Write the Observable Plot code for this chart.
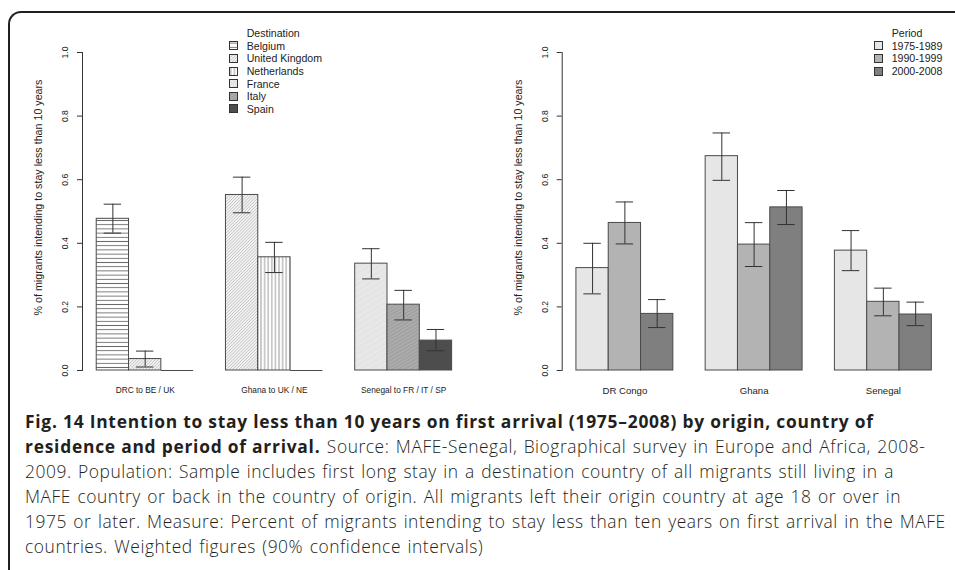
<!DOCTYPE html>
<html>
<head>
<meta charset="utf-8">
<script src="https://cdn.jsdelivr.net/npm/d3@7"></script>
<script src="https://cdn.jsdelivr.net/npm/@observablehq/plot@0.6"></script>
<style>
  html, body { margin: 0; padding: 0; background: #fff; }
  body { width: 955px; height: 570px; position: relative; overflow: hidden;
         font-family: "Liberation Sans", Arial, Helvetica, sans-serif; }
  .frame { position: absolute; left: 8px; top: 11px; width: 1000px; height: 620px;
           border-left: 2px solid #231f20; border-top: 2px solid #231f20;
           border-top-left-radius: 13px; box-sizing: border-box; }
  .panel { position: absolute; top: 0; }
  .legend { position: absolute; font-size: 10.6px; color: #222; }
  .legend .title { height: 12.6px; line-height: 12.6px; }
  .legend .row { display: flex; align-items: center; height: 12.6px; }
  .legend .row svg { margin-left: -17.7px; margin-right: 8.7px; }
  .caption { position: absolute; left: 25px; top: 409px; font-family: "Open Sans", sans-serif;
             font-size: 17.4px; line-height: 25px; color: #231f20; white-space: nowrap;
             letter-spacing: 0.55px; word-spacing: 1.4px; font-weight: 300; }
  .caption b { font-weight: 700; letter-spacing: 0.76px; word-spacing: 0; }
</style>
</head>
<body>
<svg width="0" height="0" style="position:absolute">
  <defs>
    <pattern id="pat-belgium" patternUnits="userSpaceOnUse" width="6" height="4.2">
      <rect width="6" height="4.2" fill="#fff"/>
      <line x1="0" y1="2.1" x2="6" y2="2.1" stroke="#6a6a6a" stroke-width="0.9"/>
    </pattern>
    <pattern id="pat-uk" patternUnits="userSpaceOnUse" width="2.2" height="6" patternTransform="rotate(45)">
      <rect width="2.2" height="6" fill="#f4f4f4"/>
      <line x1="1.1" y1="0" x2="1.1" y2="6" stroke="#ababab" stroke-width="0.6"/>
    </pattern>
    <pattern id="pat-netherlands" patternUnits="userSpaceOnUse" width="3.6" height="6">
      <rect width="3.6" height="6" fill="#fff"/>
      <line x1="1.8" y1="0" x2="1.8" y2="6" stroke="#7a7a7a" stroke-width="0.8"/>
    </pattern>
    <pattern id="pat-france" patternUnits="userSpaceOnUse" width="5" height="6" patternTransform="rotate(60)">
      <rect width="5" height="6" fill="#e5e5e5"/>
      <line x1="2.5" y1="0" x2="2.5" y2="6" stroke="#ececec" stroke-width="0.8"/>
    </pattern>
    <pattern id="pat-italy" patternUnits="userSpaceOnUse" width="3" height="6" patternTransform="rotate(60)">
      <rect width="3" height="6" fill="#a2a2a2"/>
      <line x1="1.5" y1="0" x2="1.5" y2="6" stroke="#b4b4b4" stroke-width="0.8"/>
    </pattern>
    <pattern id="pat-spain" patternUnits="userSpaceOnUse" width="4" height="4">
      <rect width="4" height="4" fill="#4d4d4d"/>
    </pattern>
  </defs>
</svg>

<div class="frame"></div>
<div id="left" class="panel" style="left:0px"></div>
<div id="right" class="panel" style="left:480px"></div>
<div id="legend-left" class="legend" style="left:246.7px; top:27px"></div>
<div id="legend-right" class="legend" style="left:891.7px; top:27px"></div>

<div class="caption"><b>Fig. 14 Intention to stay less than 10 years on first arrival (1975–2008) by origin, country of</b><br><b>residence and period of arrival.</b> Source: MAFE-Senegal, Biographical survey in Europe and Africa, 2008-<br>2009. Population: Sample includes first long stay in a destination country of all migrants still living in a<br>MAFE country or back in the country of origin. All migrants left their origin country at age 18 or over in<br>1975 or later. Measure: Percent of migrants intending to stay less than ten years on first arrival in the MAFE<br>countries. Weighted figures (90% confidence intervals)</div>

<script>
// ---------- Data ----------
const yLabel = "% of migrants intending to stay less than 10 years";
const yTicks = [0, 0.2, 0.4, 0.6, 0.8, 1.0];

// Left panel: origin -> destination groups
const leftGroups = ["DRC to BE / UK", "Ghana to UK / NE", "Senegal to FR / IT / SP"];
const destinations = ["Belgium", "United Kingdom", "Netherlands", "France", "Italy", "Spain"];
const leftBarGroup = [0, 0, 0, 1, 1, 1, 2, 2, 2];
const leftBarSlot  = [0, 1, 2, 0, 1, 2, 0, 1, 2];
const leftBarDest  = ["Belgium", "United Kingdom", null, "United Kingdom", "Netherlands", null, "France", "Italy", "Spain"];
const leftValue = [0.477, 0.036, 0, 0.552, 0.356, 0, 0.336, 0.207, 0.094];
const leftLow   = [0.432, 0.011, null, 0.496, 0.308, null, 0.288, 0.159, 0.062];
const leftHigh  = [0.523, 0.061, null, 0.608, 0.403, null, 0.383, 0.252, 0.129];

// Right panel: origin x period
const origins = ["DR Congo", "Ghana", "Senegal"];
const periods = ["1975-1989", "1990-1999", "2000-2008"];
const rightValue = [[0.322, 0.464, 0.178], [0.674, 0.396, 0.513], [0.377, 0.216, 0.176]];
const rightLow   = [[0.241, 0.398, 0.135], [0.598, 0.327, 0.459], [0.314, 0.172, 0.141]];
const rightHigh  = [[0.400, 0.530, 0.223], [0.747, 0.465, 0.566], [0.440, 0.259, 0.215]];

// ---------- Styles ----------
const destFill = {
  "Belgium": "url(#pat-belgium)",
  "United Kingdom": "url(#pat-uk)",
  "Netherlands": "url(#pat-netherlands)",
  "France": "url(#pat-france)",
  "Italy": "url(#pat-italy)",
  "Spain": "url(#pat-spain)"
};
const periodFill = {"1975-1989": "#e6e6e6", "1990-1999": "#b3b3b3", "2000-2008": "#7f7f7f"};

// ---------- Build rows ----------
const leftRows = leftValue.map((v, i) => {
  const x1 = 1 + 4 * leftBarGroup[i] + leftBarSlot[i];
  return {x1, x2: x1 + 1, c: x1 + 0.5, value: v, low: leftLow[i], high: leftHigh[i], key: leftBarDest[i]};
});
const rightRows = [];
origins.forEach((o, g) => periods.forEach((p, s) => {
  const x1 = 1 + 4 * g + s;
  rightRows.push({x1, x2: x1 + 1, c: x1 + 0.5, value: rightValue[g][s], low: rightLow[g][s], high: rightHigh[g][s], key: p});
}));

function panel({rows, keys, fillOf, groups, width, marginLeft, labelSize}) {
  const unitRange = 12.44 - 0.56;
  const withErr = rows.filter(r => r.low != null);
  return Plot.plot({
    width,
    height: 400,
    marginLeft,
    marginRight: width - marginLeft - unitRange * 32.31,
    marginTop: 52,
    marginBottom: 30,
    x: {domain: [0.56, 12.44], axis: null},
    y: {domain: [0, 1], axis: null},
    style: {fontFamily: '"Liberation Sans", Arial, Helvetica, sans-serif', color: "#222", background: "transparent", overflow: "visible"},
    marks: [
      Plot.frame({anchor: "left", stroke: "#333", strokeWidth: 1}),
      Plot.axisY({ticks: yTicks, tickSize: 5, tickFormat: () => "", stroke: "#333"}),
      Plot.text(yTicks, {y: d => d, text: d => d.toFixed(1), frameAnchor: "left", dx: -17, rotate: -90,
                         textAnchor: "middle", lineAnchor: "middle", fontSize: 8.6, fill: "#222"}),
      Plot.text([yLabel], {frameAnchor: "left", dx: -44, dy: -14, rotate: -90, textAnchor: "middle",
                           lineAnchor: "middle", fontSize: 10.7, fill: "#222"}),
      ...keys.map(k => Plot.rectY(rows.filter(r => r.key === k && r.value > 0),
        {x1: "x1", x2: "x2", y1: 0, y2: "value", fill: fillOf[k], stroke: "#4a4a4a", strokeWidth: 1})),
      Plot.ruleY(rows.filter(r => r.value === 0), {y: "value", x1: "x1", x2: "x2", stroke: "#4a4a4a", strokeWidth: 1}),
      Plot.ruleX(withErr, {x: "c", y1: "low", y2: "high", stroke: "#333", strokeWidth: 1}),
      Plot.ruleY(withErr, {y: "low", x1: d => d.c - 0.27, x2: d => d.c + 0.27, stroke: "#333", strokeWidth: 1}),
      Plot.ruleY(withErr, {y: "high", x1: d => d.c - 0.27, x2: d => d.c + 0.27, stroke: "#333", strokeWidth: 1}),
      Plot.text(groups, {x: (d, i) => 2.5 + 4 * i, text: d => d, frameAnchor: "bottom", dy: 20,
                         lineAnchor: "middle", fontSize: labelSize, fill: "#222"})
    ]
  });
}

document.getElementById("left").append(panel({
  rows: leftRows, keys: destinations, fillOf: destFill, groups: leftGroups,
  width: 480, marginLeft: 82, labelSize: 8.3
}));
document.getElementById("right").append(panel({
  rows: rightRows, keys: periods, fillOf: periodFill, groups: origins,
  width: 475, marginLeft: 81.7, labelSize: 9.6
}));

function legend(el, title, keys, fillOf) {
  const box = document.getElementById(el);
  const t = document.createElement("div");
  t.className = "title"; t.textContent = title;
  box.append(t);
  keys.forEach(k => {
    const row = document.createElement("div");
    row.className = "row";
    row.innerHTML = `<svg width="9" height="9"><rect x="0.5" y="0.5" width="8" height="8" fill="${fillOf[k]}" stroke="#333" stroke-width="1"/></svg><span>${k}</span>`;
    box.append(row);
  });
}
legend("legend-left", "Destination", destinations, destFill);
legend("legend-right", "Period", periods, periodFill);
</script>
</body>
</html>
